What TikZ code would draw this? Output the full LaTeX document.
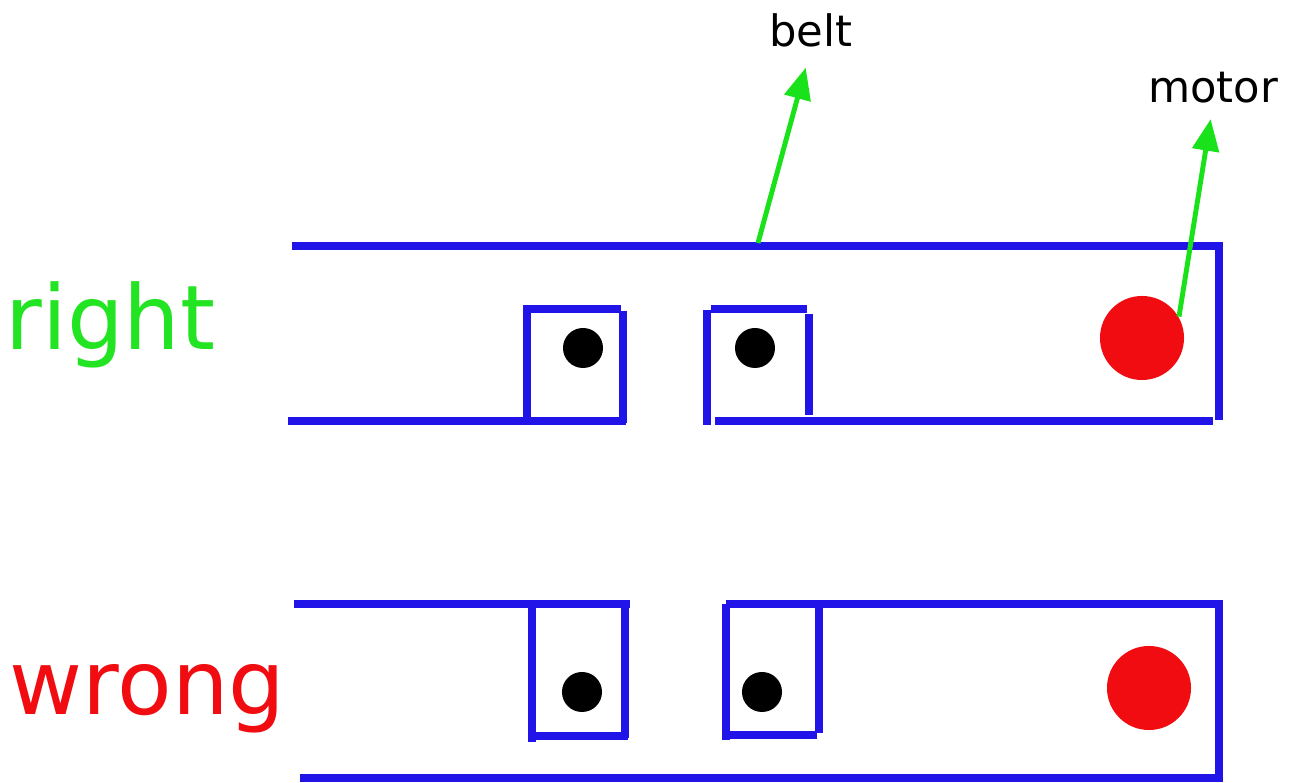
\documentclass[tikz,border=0pt]{standalone}
\usepackage{fontspec}
\setmainfont{DejaVu Sans}
\usetikzlibrary{arrows.meta}
\definecolor{azulbanda}{RGB}{32,20,232}
\definecolor{verdetexto}{RGB}{34,228,34}
\definecolor{verdeflecha}{RGB}{26,226,26}
\definecolor{rojomotor}{RGB}{240,12,16}

\begin{document}
\begin{tikzpicture}[x=0.01cm, y=-0.01cm,
    banda/.style={draw=azulbanda, line width=2.5pt},
    eje/.style={circle, fill=black, inner sep=0, minimum size=0.4cm},
    motor/.style={circle, fill=rojomotor, inner sep=0, minimum size=0.84cm},
    etiqueta/.style={anchor=base, inner sep=0, font=\fontsize{12.3}{14}\selectfont},
    titulo/.style={anchor=base west, inner sep=0, font=\fontsize{25.4}{29}\selectfont},
    flecha/.style={draw=verdeflecha, line width=1.4pt, -{Triangle[length=9pt, width=7.5pt]}}]
    % Marco
    \useasboundingbox (0,0) rectangle (1290,783);

    % Titulos
    \node[titulo, text=verdetexto] (right) at (5,350) {right};
    \node[titulo, text=rojomotor] (wrong) at (9,715) {wrong};

    % Banda correcta
    \draw[banda] (292,246) -- (1223,246);
    \draw[banda] (1219,246) -- (1219,420);
    \draw[banda] (715,421) -- (1213,421);
    \draw[banda] (288,421) -- (626,421);
    % Rodillo 1
    \draw[banda] (527,305) -- (527,423);
    \draw[banda] (526,309) -- (621,309);
    \draw[banda] (623,311) -- (623,423);
    % Rodillo 2
    \draw[banda] (707,310) -- (707,425);
    \draw[banda] (711,309) -- (807,309);
    \draw[banda] (809,314) -- (809,415);
    % Ejes y motor
    \node[eje] (ejeA1) at (583,348) {};
    \node[eje] (ejeA2) at (755,348) {};
    \node[motor] (motorA) at (1142,338) {};

    % Banda incorrecta
    \draw[banda] (294,604) -- (630,604);
    \draw[banda] (726,604) -- (1223,604);
    \draw[banda] (1219,604) -- (1219,778);
    \draw[banda] (300,778) -- (1223,778);
    % Rodillo 1
    \draw[banda] (532,604) -- (532,742);
    \draw[banda] (532,736) -- (628,736);
    \draw[banda] (625,604) -- (625,738);
    % Rodillo 2
    \draw[banda] (726,604) -- (726,740);
    \draw[banda] (726,735) -- (817,735);
    \draw[banda] (819,604) -- (819,733);
    % Ejes y motor
    \node[eje] (ejeB1) at (582,692) {};
    \node[eje] (ejeB2) at (762,692) {};
    \node[motor] (motorB) at (1149,688) {};

    % Etiquetas
    \node[etiqueta] (belt) at (811,47) {belt};
    \node[etiqueta] (motorlbl) at (1213,103) {motor};
    \coordinate (beltpt) at (758,243);
    \draw[flecha, shorten >=0.2cm] (beltpt) -- (belt.south);
    \draw[flecha, shorten >=0.15cm] (motorA.30) -- (motorlbl.south);
\end{tikzpicture}
\end{document}
